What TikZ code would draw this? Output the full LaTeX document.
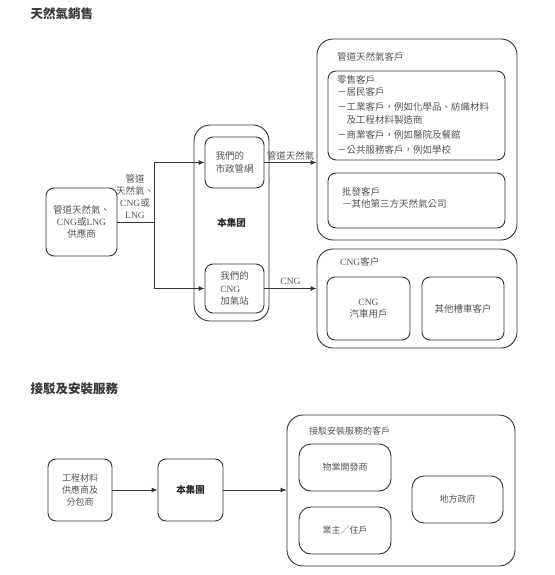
\documentclass[tikz,border=0pt]{standalone}
\usepackage{fontspec}
\setmainfont{Noto Sans CJK TC}
\newfontfamily\latin{Liberation Serif}
\usetikzlibrary{positioning, arrows.meta}
\definecolor{linegray}{HTML}{333333}
\definecolor{textgray}{HTML}{555555}
\definecolor{titlegray}{HTML}{3A3A3A}

\begin{document}
\begin{tikzpicture}[
    x=1pt, y=-1pt,
    >={Latex[length=6pt,width=5pt]},
    font=\fontsize{9.5}{12.3}\selectfont,
    box/.style={rectangle, draw=linegray, line width=0.9pt, rounded corners=8pt, align=center, text=textgray, inner sep=2pt},
    module/.style={rectangle, draw=linegray, line width=0.9pt, rounded corners=16pt},
    title/.style={anchor=west, font=\fontsize{12.5}{15}\selectfont\bfseries, text=titlegray},
    lbl/.style={text=textgray, align=left, inner sep=0pt},
    group/.style={font=\fontsize{9.5}{12}\selectfont\bfseries, text=black!85},
    link/.style={line width=0.9pt, draw=linegray},
    arrow/.style={->, line width=0.9pt, draw=linegray},
]
\useasboundingbox (0,0) rectangle (554,575);

% Natural gas sales
\node[title] (title1) at (27,14) {天然氣銷售};

\node[box, minimum width=71pt, minimum height=68pt] (supp) at (81.5,222) {管道天然氣、\\{\latin CNG}或{\latin LNG}\\供應商};
\node[lbl, align=center] (supp_lbl) at (135,196.5) {管道\\天然氣、\\{\latin CNG}或\\{\latin LNG}};

% Our group
\node[module, minimum width=75pt, minimum height=196pt] (grp) at (231.5,223) {};
\node[box, align=left, minimum width=59pt, minimum height=51pt] (muni) at (234.5,162.5) {我們的\\市政管網};
\node[box, align=left, minimum width=59pt, minimum height=49pt] (station) at (234.5,288.5) {我們的\\{\latin CNG}\\加氣站};
\node[group] (grp_lbl) at (231.5,223) {本集团};

% Pipeline gas customers
\node[module, minimum width=200pt, minimum height=201pt] (pipe_bg) at (417,139.5) {};
\node[lbl, anchor=west] (pipe_lbl) at (337,57) {管道天然氣客戶};
\node[box, minimum width=177pt, minimum height=89pt] (retail) at (416.5,115.5) {};
\node[lbl, anchor=north west] (retail_txt) at (337,75)
    {零售客戶\\
     －居民客戶\\[3pt]
     －工業客戶，例如化學品、紡織材料\\
     \hspace*{1em}及工程材料製造商\\[3pt]
     －商業客戶，例如醫院及餐館\\[3pt]
     －公共服務客戶，例如學校};
\node[box, minimum width=177pt, minimum height=55pt] (whole) at (416.5,200.5) {};
\node[lbl, anchor=north west] (whole_txt) at (342,187) {批發客戶\\－其他第三方天然氣公司};

% CNG customers
\node[module, minimum width=200pt, minimum height=99pt] (cng_bg) at (417,298.5) {};
\node[lbl, anchor=west] (cng_lbl) at (340,262) {{\latin CNG}客户};
\node[box, minimum width=83pt, minimum height=63pt] (car) at (368.5,308.5) {{\latin CNG}\\汽車用戶};
\node[box, minimum width=82pt, minimum height=63pt] (tank) at (463,308.5) {其他槽車客户};

% Flows
\coordinate (split) at (154,222);
\draw[link] (supp.east) -- (split);
\draw[arrow] (split) |- (muni.west);
\draw[arrow] (split) |- (station.west);
\draw[arrow] (muni.east) -- node[above, text=textgray, inner sep=2pt] {管道天然氣} (muni.east -| pipe_bg.west);
\draw[arrow] (station.east) -- node[above, text=textgray, inner sep=3pt] {\latin CNG} (station.east -| cng_bg.west);

% Connection and installation services
\node[title] (title2) at (27,389) {接駁及安裝服務};

\node[box, minimum width=64pt, minimum height=62pt, font=\fontsize{9}{12}\selectfont] (supp2) at (80,490) {工程材料\\供應商及\\分包商};
\node[box, minimum width=65pt, minimum height=62pt, group] (grp2) at (190.5,490) {本集團};

\node[module, minimum width=228pt, minimum height=151pt] (cust_bg) at (401,490.5) {};
\node[lbl, anchor=west, font=\fontsize{9}{11}\selectfont] (cust_lbl) at (309,431) {接駁安裝服務的客戶};
\node[box, minimum width=92pt, minimum height=47pt, rounded corners=12pt, font=\fontsize{9}{11}\selectfont] (dev) at (345,467.5) {物業開發商};
\node[box, minimum width=92pt, minimum height=47pt, rounded corners=12pt, font=\fontsize{9}{11}\selectfont] (owner) at (345,530.5) {業主／住戶};
\node[box, minimum width=91pt, minimum height=47pt, rounded corners=12pt, font=\fontsize{9}{11}\selectfont] (gov) at (457.5,499.5) {地方政府};

\draw[arrow] (supp2) -- (grp2);
\draw[arrow] (grp2.east) -- (grp2.east -| cust_bg.west);

\end{tikzpicture}
\end{document}
